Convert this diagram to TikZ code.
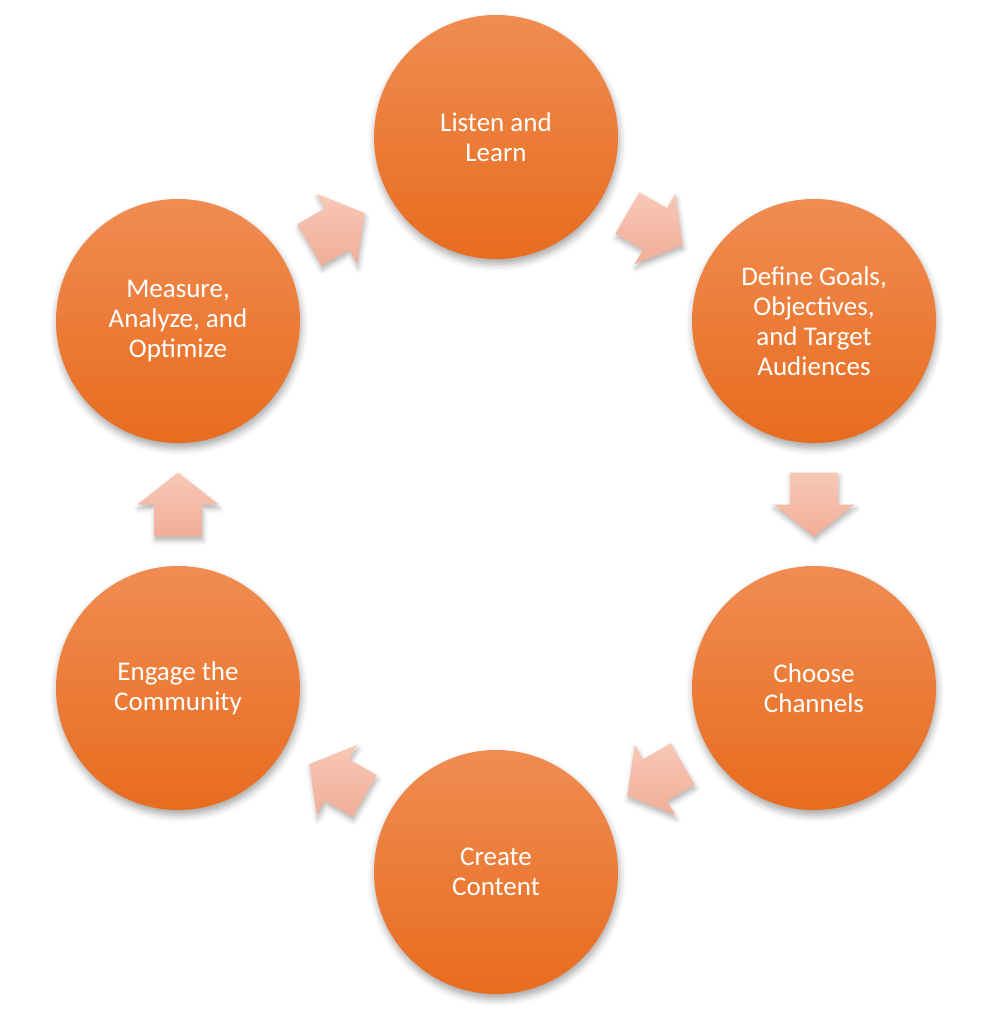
\documentclass[tikz,border=0pt]{standalone}
\usepackage{fontspec}
\setmainfont{Carlito}
\usetikzlibrary{calc,shadows.blur}
\definecolor{circtop}{RGB}{240,140,82}
\definecolor{circbot}{RGB}{232,108,30}
\definecolor{arrtop}{RGB}{248,200,182}
\definecolor{arrbot}{RGB}{240,174,152}
\tikzset{
  stage/.style={circle, minimum size=244pt, inner sep=0pt, top color=circtop, bottom color=circbot, draw=none,
    text=white, align=center, font=\fontsize{27}{30}\selectfont,
    blur shadow={shadow xshift=1pt, shadow yshift=-5pt, shadow blur radius=7pt, shadow opacity=35}},
  blockarrow/.pic={
    \path[top color=arrtop, bottom color=arrbot, draw=none,
      blur shadow={shadow xshift=1pt, shadow yshift=-4pt, shadow blur radius=5pt, shadow opacity=30}]
      (-32,-24) -- (0,-24) -- (0,-40.5) -- (32,0) -- (0,40.5) -- (0,24) -- (-32,24) -- cycle;
  }
}
\begin{document}
\begin{tikzpicture}[x=1pt,y=-1pt]
\useasboundingbox (0,0) rectangle (982,1024);
\node[stage] (listen) at (496,137) {Listen and\\Learn};
\node[stage] (goals) at (814,321) {Define Goals,\\Objectives,\\and Target\\Audiences};
\node[stage] (channels) at (814,688) {Choose\\Channels};
\node[stage] (content) at (496,872) {Create\\Content};
\node[stage] (engage) at (178,688) {Engage the\\Community};
\node[stage] (measure) at (178,321) {Measure,\\Analyze, and\\Optimize};
\pic[rotate=-30] (a1) at ($(listen)!0.5!(goals)$) {blockarrow};
\pic[rotate=-90] (a2) at ($(goals)!0.5!(channels)$) {blockarrow};
\pic[rotate=-150] (a3) at ($(channels)!0.5!(content)$) {blockarrow};
\pic[rotate=150] (a4) at ($(content)!0.5!(engage)$) {blockarrow};
\pic[rotate=90] (a5) at ($(engage)!0.5!(measure)$) {blockarrow};
\pic[rotate=30] (a6) at ($(measure)!0.5!(listen)$) {blockarrow};
\end{tikzpicture}
\end{document}
